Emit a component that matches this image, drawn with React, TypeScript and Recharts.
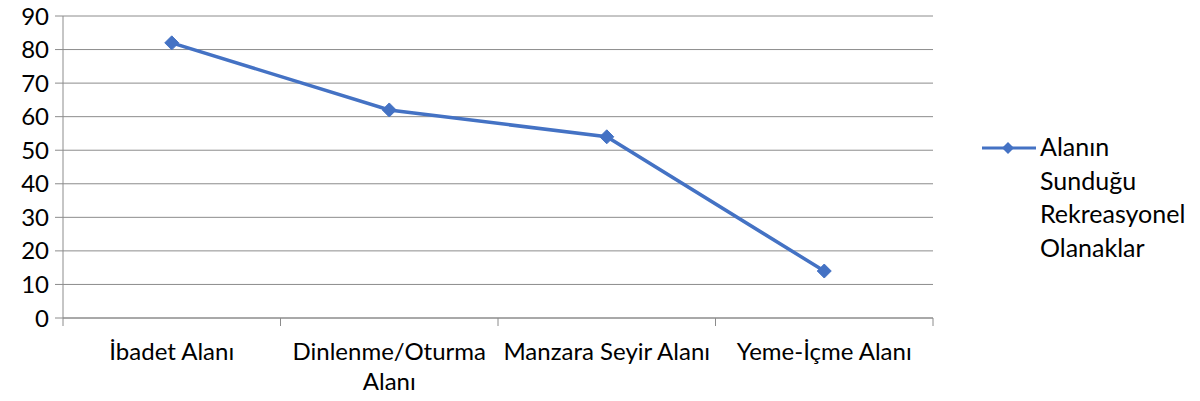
import React from 'react';
import { LineChart, Line, XAxis, YAxis, CartesianGrid } from 'recharts';

const categories = ['İbadet Alanı', 'Dinlenme/Oturma Alanı', 'Manzara Seyir Alanı', 'Yeme-İçme Alanı'];
const values = [82, 62, 54, 14];
const yTicks = [0, 10, 20, 30, 40, 50, 60, 70, 80, 90];
const seriesName = 'Alanın Sunduğu Rekreasyonel Olanaklar';
const legendLines = ['Alanın', 'Sunduğu', 'Rekreasyonel', 'Olanaklar'];

const chartData = categories.map((name, i) => ({ name, value: values[i] }));

const FONT = 'Lato, "Noto Sans", sans-serif';
const GRID = '#8c8c8c';
const BLUE = '#4472C4';

const PLOT_LEFT = 63;
const PLOT_RIGHT = 933;
const BAND = (PLOT_RIGHT - PLOT_LEFT) / categories.length;

function splitLabel(label: string) {
  if (label.length <= 19) return [label];
  const idx = label.lastIndexOf(' ');
  return [label.slice(0, idx), label.slice(idx + 1)];
}

const CategoryTick = (props: any) => {
  const { x, y, payload, index } = props;
  const lines = splitLabel(payload.value);
  const isLast = index === categories.length - 1;
  return (
    <g>
      <line x1={x - BAND / 2} y1={y} x2={x - BAND / 2} y2={y + 8} stroke={GRID} />
      {isLast && <line x1={x + BAND / 2} y1={y} x2={x + BAND / 2} y2={y + 8} stroke={GRID} />}
      {lines.map((ln, i) => (
        <text
          key={i}
          x={x}
          y={y + 42 + i * 30}
          textAnchor="middle"
          fontSize={24}
          fontFamily={FONT}
          fill="#000"
        >
          {ln}
        </text>
      ))}
    </g>
  );
};

const Diamond = (props: any) => {
  const { cx, cy } = props;
  const r = 7;
  return (
    <path
      d={`M${cx},${cy - r} L${cx + r},${cy} L${cx},${cy + r} L${cx - r},${cy} Z`}
      fill={BLUE}
      stroke={BLUE}
    />
  );
};

export default function App() {
  return (
    <div style={{ position: 'absolute', left: 0, top: 0, width: 1200, height: 401, background: '#fff' }}>
      <LineChart
        width={1200}
        height={401}
        data={chartData}
        margin={{ top: 16, right: 1200 - PLOT_RIGHT, bottom: 0, left: 0 }}
      >
        <CartesianGrid vertical={false} stroke={GRID} strokeWidth={1} />
        <XAxis
          dataKey="name"
          height={83}
          interval={0}
          padding={{ left: BAND / 2, right: BAND / 2 }}
          tickLine={false}
          tickSize={0}
          tickMargin={0}
          axisLine={{ stroke: GRID }}
          tick={<CategoryTick />}
        />
        <YAxis
          width={PLOT_LEFT}
          domain={[0, 90]}
          ticks={yTicks}
          interval={0}
          tickSize={8}
          tickMargin={6}
          axisLine={{ stroke: GRID }}
          tickLine={{ stroke: GRID }}
          tick={{ fill: '#000', fontSize: 24, fontFamily: FONT }}
        />
        <Line
          name={seriesName}
          type="linear"
          dataKey="value"
          stroke={BLUE}
          strokeWidth={3.5}
          dot={<Diamond />}
          activeDot={false}
          isAnimationActive={false}
        />
      </LineChart>
      <div style={{ position: 'absolute', left: 980, top: 134, fontFamily: FONT, fontSize: 25, color: '#000' }}>
        <svg width={58} height={28} style={{ position: 'absolute', left: 0, top: 0 }}>
          <line x1={2} y1={14} x2={56} y2={14} stroke={BLUE} strokeWidth={3} />
          <path d="M28,8 L34,14 L28,20 L22,14 Z" fill={BLUE} />
        </svg>
        <div style={{ position: 'absolute', left: 60, top: 0, lineHeight: '33.5px', whiteSpace: 'nowrap', marginTop: -4 }}>
          {legendLines.map((ln, i) => (
            <div key={i}>{ln}</div>
          ))}
        </div>
      </div>
    </div>
  );
}
